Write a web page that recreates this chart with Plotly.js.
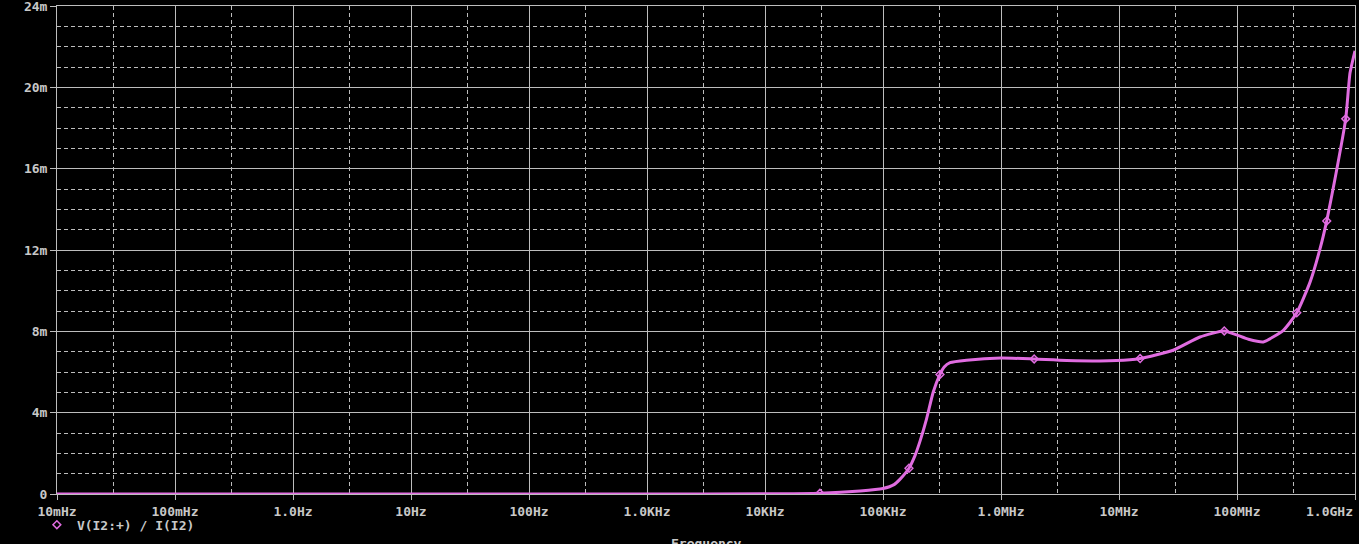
<!DOCTYPE html>
<html>
<head>
<meta charset="utf-8">
<script src="https://cdn.plot.ly/plotly-3.0.1.min.js"></script>
<style>
  html, body { margin: 0; padding: 0; background: #000; }
  #chart { width: 1359px; height: 544px; }
</style>
</head>
<body>
<div id="chart"></div>
<script>
// Frequency sweep (Hz) and V(I2:+)/I(I2) in milli-units
const freqHz = [0.01, 0.1, 1, 10, 100, 1e3, 1e4, 2.92e4, 6.4e4, 1.0e5, 1.24e5, 1.39e5, 1.66e5, 1.87e5, 2.06e5, 2.34e5, 2.67e5, 3.04e5, 3.3e5, 3.7e5, 5.1e5, 1.0e6, 1.91e6, 3.6e6, 9.5e6, 1.51e7, 2.88e7, 4.85e7, 7.8e7, 1.25e8, 1.67e8, 2.47e8, 3.21e8, 4.16e8, 5.05e8, 5.76e8, 6.77e8, 8.34e8, 9.07e8, 1.0e9];
const valueMilli = [0, 0, 0, 0, 0, 0, 0.01, 0.04, 0.15, 0.27, 0.46, 0.72, 1.27, 1.9, 2.6, 3.7, 5.03, 5.88, 6.25, 6.46, 6.58, 6.69, 6.64, 6.57, 6.56, 6.66, 7.07, 7.72, 8.02, 7.61, 7.48, 8.05, 8.91, 10.42, 12.05, 13.43, 15.5, 18.45, 20.7, 21.8];

// Trace markers (PSpice symbol points)
const markerFreqHz = [2.92e4, 1.66e5, 3.04e5, 1.91e6, 1.51e7, 7.8e7, 3.21e8, 5.76e8, 8.34e8];
const markerValueMilli = [0.04, 1.27, 5.88, 6.64, 6.66, 8.02, 8.91, 13.43, 18.45];

const seriesName = 'V(I2:+) / I(I2)';
const xTitle = 'Frequency';

const xTickVals = [0.01, 0.1, 1, 10, 100, 1e3, 1e4, 1e5, 1e6, 1e7, 1e8, 1e9];
const xTickText = ['10mHz', '100mHz', '1.0Hz', '10Hz', '100Hz', '1.0KHz', '10KHz', '100KHz', '1.0MHz', '10MHz', '100MHz', '1.0GHz'];
const xMinorVals = [0.03, 0.3, 3, 30, 300, 3e3, 3e4, 3e5, 3e6, 3e7, 3e8];

const yTickVals = [0, 4, 8, 12, 16, 20, 24];
const yTickText = ['0', '4m', '8m', '12m', '16m', '20m', '24m'];
const yMinorVals = [1, 2, 3, 5, 6, 7, 9, 10, 11, 13, 14, 15, 17, 18, 19, 21, 22, 23];

const TRACE = '#e06ce0';
const GRID = '#bdbdbd';
const TEXT = '#c8c8c8';
const FONT = {family: 'DejaVu Sans Mono, monospace', size: 13, color: TEXT, weight: 'bold'};

const traces = [
  {
    x: freqHz, y: valueMilli, type: 'scatter', mode: 'lines',
    line: {color: TRACE, width: 3, shape: 'spline', smoothing: 0.5},
    showlegend: false, hoverinfo: 'skip'
  },
  {
    x: markerFreqHz, y: markerValueMilli, type: 'scatter', mode: 'markers',
    name: seriesName,
    marker: {symbol: 'diamond-open', size: 6, color: TRACE, line: {color: TRACE, width: 1.5}},
    showlegend: true
  }
];

// last tick label is drawn right-aligned to the plot edge
const lastIdx = xTickText.length - 1;
const xTickTextShown = xTickText.map((t, i) => i === lastIdx ? '' : t);

const layout = {
  width: 1359, height: 544,
  paper_bgcolor: '#000', plot_bgcolor: '#000',
  margin: {l: 57, r: 4, t: 6, b: 48, pad: 0},
  font: FONT,
  showlegend: true,
  legend: {
    x: -0.0155, xanchor: 'left', xref: 'paper',
    y: -0.063, yanchor: 'middle', yref: 'paper',
    bgcolor: 'rgba(0,0,0,0)', font: FONT,
    itemwidth: 30, tracegroupgap: 0
  },
  xaxis: {
    type: 'log', range: [-2, 9],
    tickmode: 'array', tickvals: xTickVals, ticktext: xTickTextShown,
    ticks: 'outside', ticklen: 5, tickcolor: GRID, tickwidth: 1,
    showgrid: true, gridcolor: GRID, gridwidth: 1,
    minor: {tickmode: 'array', tickvals: xMinorVals, showgrid: true, gridcolor: GRID, griddash: '4px,3px', gridwidth: 1, ticks: ''},
    showline: true, mirror: true, linecolor: GRID, linewidth: 1,
    zeroline: false, tickfont: FONT, automargin: false, fixedrange: true,
    ticklabeloverflow: 'allow'
  },
  yaxis: {
    range: [0, 24],
    tickmode: 'array', tickvals: yTickVals, ticktext: yTickText,
    ticks: 'outside', ticklen: 6, tickcolor: GRID, tickwidth: 1,
    showgrid: true, gridcolor: GRID, gridwidth: 1,
    minor: {tickmode: 'array', tickvals: yMinorVals, showgrid: true, gridcolor: GRID, griddash: '4px,3px', gridwidth: 1, ticks: ''},
    showline: true, mirror: true, linecolor: GRID, linewidth: 1,
    zeroline: false, tickfont: FONT, automargin: false, fixedrange: true,
    ticklabeloverflow: 'allow'
  },
  annotations: [
    {
      text: xTickText[lastIdx], xref: 'paper', yref: 'paper',
      x: 1, y: -0.035, xanchor: 'right', yanchor: 'middle',
      showarrow: false, font: FONT
    },
    {
      text: xTitle, xref: 'paper', yref: 'paper',
      x: 0.5, y: -0.081, xanchor: 'center', yanchor: 'top',
      showarrow: false, font: FONT
    }
  ]
};

Plotly.newPlot('chart', traces, layout, {displayModeBar: false, staticPlot: true});
</script>
</body>
</html>
